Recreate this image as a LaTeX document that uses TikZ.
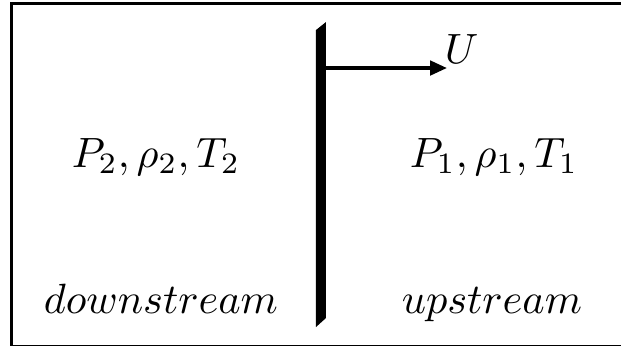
\documentclass[tikz,border=0pt]{standalone}
\usepackage{amsmath}
\usepackage{amssymb}
\usetikzlibrary{arrows.meta}

\begin{document}
\begin{tikzpicture}[x=0.0083cm,y=-0.0083cm]
            \useasboundingbox (0,0) rectangle (621,345);

            % outer frame
            \draw[line width=0.6pt] (11.5,3.5) rectangle (623,345.8);

            % piston
            \fill (316,30) -- (326,22) -- (326,318) -- (316,327) -- cycle;

            % velocity
            \coordinate (foot) at (326,68);
            \coordinate (tip) at (447,68);
            \draw[line width=0.85pt, -{Triangle[length=4pt,width=3.4pt]}] (foot) -- (tip);
            \node[anchor=south west, inner sep=0pt] (vel) at (444,64) {$U$};

            % states
            \node (down) at (156,157) {$P_2,\rho_2,T_2$};
            \node (up) at (494,157) {$P_1,\rho_1,T_1$};

            % labels
            \node[anchor=base] (downlab) at (161,313) {$downstream$};
            \node[anchor=base] (uplab) at (492,313) {$upstream$};
        \end{tikzpicture}
\end{document}
